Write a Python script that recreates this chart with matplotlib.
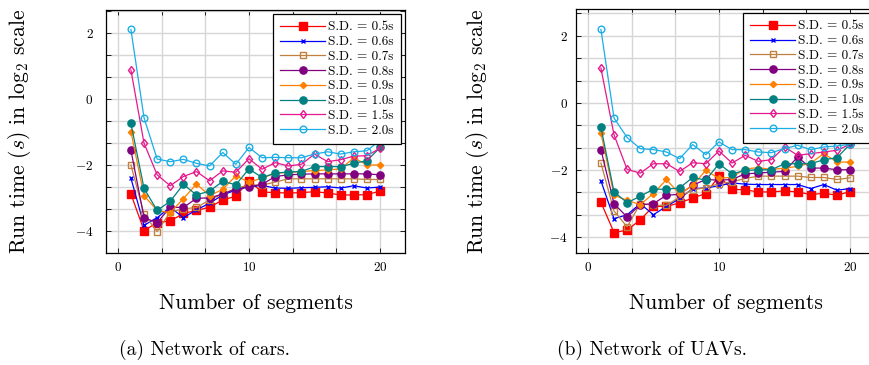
import matplotlib
matplotlib.use('Agg')
import matplotlib.pyplot as plt
from matplotlib.ticker import MultipleLocator, FuncFormatter

plt.rcParams['mathtext.fontset'] = 'cm'
plt.rcParams['font.family'] = ['cmr10', 'DejaVu Serif']
plt.rcParams['axes.unicode_minus'] = False

# 横轴：分段数
segments = list(range(1, 21))

# 标准差取值（图例）
sd_labels = ['0.5', '0.6', '0.7', '0.8', '0.9', '1.0', '1.5', '2.0']

# (a) Network of cars, log2 运行时间
cars_05 = [-2.88, -3.99, -3.75, -3.70, -3.47, -3.38, -3.28, -3.06, -2.95, -2.48,
           -2.82, -2.84, -2.85, -2.84, -2.81, -2.85, -2.91, -2.91, -2.90, -2.79]
cars_06 = [-2.40, -3.83, -3.60, -3.28, -3.60, -3.36, -3.16, -2.91, -2.76, -2.66,
           -2.62, -2.70, -2.71, -2.69, -2.68, -2.66, -2.70, -2.63, -2.70, -2.67]
cars_07 = [-2.00, -3.49, -4.02, -3.43, -3.33, -3.29, -3.06, -2.88, -2.71, -2.61,
           -2.61, -2.52, -2.42, -2.42, -2.42, -2.42, -2.42, -2.42, -2.44, -2.44]
cars_08 = [-1.55, -3.60, -3.75, -3.28, -3.29, -3.01, -3.00, -2.88, -2.73, -2.66,
           -2.59, -2.35, -2.30, -2.28, -2.27, -2.27, -2.27, -2.27, -2.27, -2.30]
cars_09 = [-0.99, -2.93, -3.38, -3.45, -3.02, -2.58, -2.93, -2.74, -2.33, -2.52,
           -2.40, -2.25, -2.23, -2.20, -2.17, -2.15, -2.12, -1.78, -2.00, -2.00]
cars_10 = [-0.74, -2.71, -3.38, -3.10, -2.59, -2.91, -2.79, -2.50, -2.60, -2.12,
           -2.38, -2.25, -2.21, -2.20, -2.05, -2.05, -2.05, -1.95, -1.87, -1.47]
cars_15 = [0.88, -1.34, -2.30, -2.63, -2.35, -2.20, -2.48, -2.18, -2.22, -1.81,
           -2.13, -1.93, -2.03, -1.98, -1.67, -1.90, -1.84, -1.73, -1.72, -1.49]
cars_20 = [2.11, -0.57, -1.82, -1.90, -1.83, -1.95, -2.03, -1.62, -1.98, -1.47,
           -1.78, -1.77, -1.78, -1.78, -1.67, -1.60, -1.67, -1.60, -1.57, -1.25]

# (b) Network of UAVs
uavs_05 = [-2.96, -3.86, -3.79, -3.48, -3.08, -3.08, -2.98, -2.83, -2.70, -2.18,
           -2.57, -2.59, -2.65, -2.65, -2.62, -2.65, -2.73, -2.69, -2.75, -2.64]
uavs_06 = [-2.32, -3.45, -3.33, -3.00, -3.33, -3.08, -2.85, -2.55, -2.53, -2.47,
           -2.38, -2.42, -2.43, -2.43, -2.43, -2.43, -2.55, -2.43, -2.60, -2.55]
uavs_07 = [-1.79, -3.22, -3.69, -3.00, -3.05, -3.05, -2.80, -2.58, -2.53, -2.40,
           -2.35, -2.25, -2.18, -2.18, -2.18, -2.18, -2.22, -2.22, -2.28, -2.23]
uavs_08 = [-1.39, -3.00, -3.40, -3.03, -3.00, -2.75, -2.72, -2.45, -2.28, -2.30,
           -2.28, -2.11, -2.09, -2.06, -2.04, -1.61, -1.94, -1.94, -1.99, -1.99]
uavs_09 = [-0.89, -2.75, -2.90, -3.03, -2.70, -2.28, -2.72, -2.45, -2.01, -2.25,
           -2.21, -1.96, -1.93, -1.98, -1.94, -1.89, -1.79, -1.51, -1.76, -1.76]
uavs_10 = [-0.73, -2.65, -2.97, -2.78, -2.57, -2.57, -2.53, -2.22, -2.30, -1.81,
           -2.11, -2.01, -1.99, -1.99, -1.81, -1.81, -1.81, -1.69, -1.63, -1.23]
uavs_15 = [1.04, -0.95, -1.98, -2.09, -1.81, -1.81, -2.04, -1.78, -1.81, -1.43,
           -1.79, -1.56, -1.74, -1.69, -1.31, -1.56, -1.51, -1.46, -1.41, -1.23]
uavs_20 = [2.19, -0.45, -1.03, -1.36, -1.39, -1.46, -1.66, -1.24, -1.54, -1.16,
           -1.39, -1.39, -1.46, -1.48, -1.36, -1.26, -1.39, -1.31, -1.28, -1.23]

cars = [cars_05, cars_06, cars_07, cars_08, cars_09, cars_10, cars_15, cars_20]
uavs = [uavs_05, uavs_06, uavs_07, uavs_08, uavs_09, uavs_10, uavs_15, uavs_20]

# pgfplots 风格
styles = [
    dict(color='#FF0000', marker='s', ms=5.3, mfc='#FF0000'),
    dict(color='#0000FF', marker='x', ms=3.2, mew=1.0),
    dict(color='#BF8040', marker='s', ms=5.0, mfc='none'),
    dict(color='#800080', marker='o', ms=5.2, mfc='#800080'),
    dict(color='#FF8000', marker='D', ms=3.2, mfc='#FF8000'),
    dict(color='#008080', marker='o', ms=5.2, mfc='#008080'),
    dict(color='#E6198C', marker='d', ms=4.3, mfc='none'),
    dict(color='#1AAEE6', marker='o', ms=4.8, mfc='none'),
]

fig = plt.figure(figsize=(8.7, 3.65), dpi=100)
W, H = 870.0, 365.0


def tick_fmt(v, pos):
    return r'$%d$' % round(v)


def draw(rect, data, ylim, ypad, ylab_x, caption, cap_x):
    ax = fig.add_axes(rect)
    for series, sd, st in zip(data, sd_labels, styles):
        ax.plot(segments, series, lw=0.9, label='S.D. = %ss' % sd, **st)
    ax.set_xlim(-0.9, 21.9)
    ax.set_ylim(*ylim)
    ax.xaxis.set_major_locator(MultipleLocator(10))
    ax.xaxis.set_minor_locator(MultipleLocator(10 / 3))
    ax.yaxis.set_major_locator(MultipleLocator(2))
    ax.yaxis.set_minor_locator(MultipleLocator(2 / 3))
    ax.xaxis.set_major_formatter(FuncFormatter(tick_fmt))
    ax.yaxis.set_major_formatter(FuncFormatter(tick_fmt))
    ax.grid(True, which='both', color='#d6d6d6', lw=1.0)
    ax.set_axisbelow(True)
    ax.tick_params(which='both', direction='in', top=True, right=True,
                   length=3.5, width=0.6, labelsize=9.5)
    ax.tick_params(axis='y', pad=ypad)
    ax.tick_params(axis='x', pad=6)
    for s in ax.spines.values():
        s.set_linewidth(0.9)
    ax.set_ylabel(r'Run time $(s)$ in log$_2$ scale', fontsize=15.5)
    ax.yaxis.set_label_coords(ylab_x, 0.5)
    ax.set_xlabel('Number of segments', fontsize=15.5)
    ax.xaxis.set_label_coords(0.5, -0.165)
    leg = ax.legend(loc='upper right', fontsize=9.5, frameon=True, fancybox=False,
                    edgecolor='black', framealpha=1, handlelength=3.4,
                    labelspacing=0.19, borderaxespad=0.3, borderpad=0.55,
                    handletextpad=0.25)
    leg.get_frame().set_linewidth(0.9)
    fig.text(cap_x / W, 1 - 350 / H, caption, fontsize=14, ha='center', va='center')
    return ax


draw([106 / W, 1 - 253 / H, 299 / W, 243 / H], cars, (-4.67, 2.70), 9, -0.245,
     '(a) Network of cars.', 205)
draw([576 / W, 1 - 253 / H, 299 / W, 244 / H], uavs, (-4.47, 2.80), 6, -0.285,
     '(b) Network of UAVs.', 652)

plt.savefig('out.png', dpi=100)
